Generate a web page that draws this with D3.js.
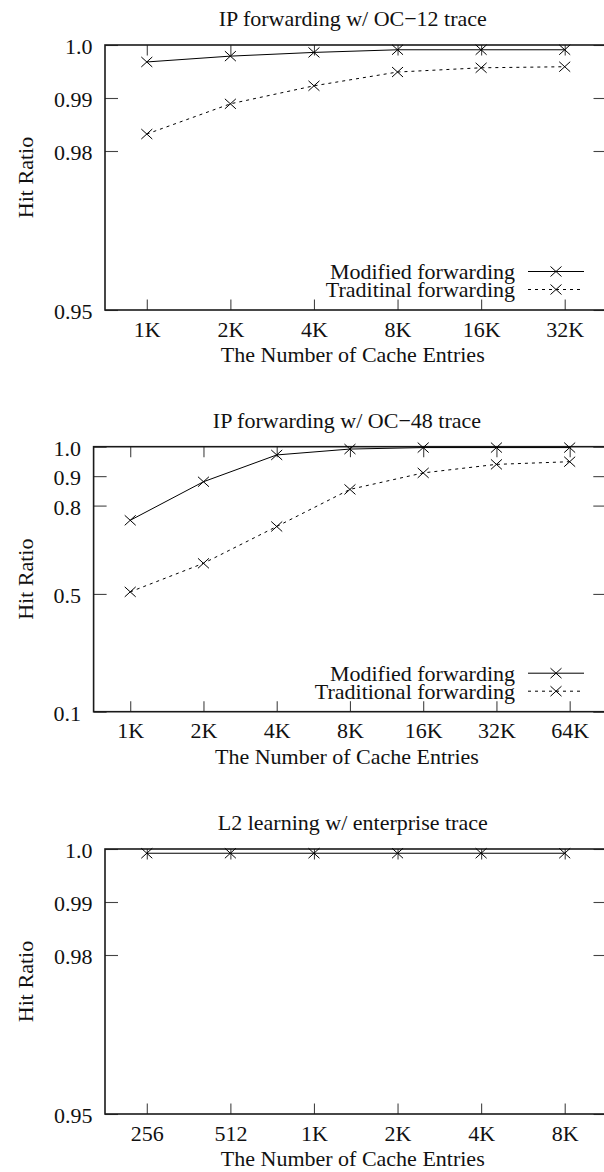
<!DOCTYPE html>
<html>
<head>
<meta charset="utf-8">
<script src="https://cdn.jsdelivr.net/npm/d3@7"></script>
<style>
    body { margin: 0; background: #fff; }
    svg text { font-family: 'Liberation Serif', 'Times New Roman', serif !important; font-size: 22px; fill: #111; }
</style>
</head>
<body>
<div id="vis"></div>
<script>
// OC-12 panel
const labels12 = ['1K', '2K', '4K', '8K', '16K', '32K'];
const modified12 = [0.9968, 0.9979, 0.9986, 0.9991, 0.9991, 0.9991];
const traditional12 = [0.9832, 0.9889, 0.9923, 0.9949, 0.9957, 0.9959];
const yTicks12 = [0.95, 0.98, 0.99, 1.0];

// OC-48 panel
const labels48 = ['1K', '2K', '4K', '8K', '16K', '32K', '64K'];
const modified48 = [0.750, 0.881, 0.972, 0.992, 0.997, 0.997, 0.997];
const traditional48 = [0.507, 0.604, 0.729, 0.855, 0.911, 0.940, 0.949];
const yTicks48 = [0.1, 0.5, 0.8, 0.9, 1.0];

// L2 learning panel
const labelsL2 = ['256', '512', '1K', '2K', '4K', '8K'];
const learningL2 = [0.9992, 0.9992, 0.9992, 0.9992, 0.9992, 0.9992];
const yTicksL2 = [0.95, 0.98, 0.99, 1.0];

const W = 604, H = 1172;
const plotH = 265;
const xTick = 10.5, yTick = 13;
const serif = "'Liberation Serif', 'Times New Roman', serif";

const svg = d3.select('#vis')
    .append('svg')
    .attr('width', W)
    .attr('height', H)
    .attr('font-family', serif);

const panels = [
    {
        title: 'IP forwarding w/ OC\u221212 trace', top: 45, left: 105, right: 606.5,
        labels: labels12, domain: [0.95, 1.0], yTicks: yTicks12,
        series: [
            { name: 'Modified forwarding', values: modified12, dash: null },
            { name: 'Traditinal forwarding', values: traditional12, dash: '3,4' }
        ],
        legend: true
    },
    {
        title: 'IP forwarding w/ OC\u221248 trace', top: 446.7, left: 93.6, right: 606.3,
        labels: labels48, domain: [0.1, 1.0], yTicks: yTicks48,
        series: [
            { name: 'Modified forwarding', values: modified48, dash: null },
            { name: 'Traditional forwarding', values: traditional48, dash: '3,4' }
        ],
        legend: true
    },
    {
        title: 'L2 learning w/ enterprise trace', top: 849, left: 105, right: 606.5,
        labels: labelsL2, domain: [0.95, 1.0], yTicks: yTicksL2,
        series: [
            { name: 'L2 learning', values: learningL2, dash: null }
        ],
        legend: false
    }
];

const cross = 'M-5.5,-5L5.5,5M-5.5,5L5.5,-5';

function fmt(v) {
    return v === 1 ? '1.0' : String(v);
}

function drawPanel(p) {
    const bottom = p.top + plotH;
    const g = svg.append('g');

    const xScale = d3.scalePoint()
        .domain(p.labels)
        .range([p.left, p.right])
        .padding(0.5);

    const yScale = d3.scaleLinear()
        .domain(p.domain)
        .range([bottom, p.top]);

    // bottom axis, ticks pointing inward
    const xb = g.append('g')
        .attr('transform', `translate(0,${bottom})`)
        .call(d3.axisBottom(xScale).tickSize(-xTick));
    xb.selectAll('text').attr('dy', null).attr('y', 26.5);

    // mirrored top ticks
    g.append('g')
        .attr('transform', `translate(0,${p.top})`)
        .call(d3.axisTop(xScale).tickSize(-xTick).tickFormat(''));

    // left axis
    const yl = g.append('g')
        .attr('transform', `translate(${p.left},0)`)
        .call(d3.axisLeft(yScale).tickValues(p.yTicks).tickSize(-yTick).tickFormat(fmt));
    yl.selectAll('text').attr('dy', null).attr('x', -12.5).attr('y', 8.5);

    // mirrored right ticks
    g.append('g')
        .attr('transform', `translate(${p.right},0)`)
        .call(d3.axisRight(yScale).tickValues(p.yTicks).tickSize(-yTick).tickFormat(''));

    g.selectAll('.domain').remove();
    g.selectAll('g').attr('font-family', serif).attr('font-size', 22);
    g.selectAll('.tick line').attr('stroke', '#444').attr('stroke-width', 1.1);
    g.selectAll('.tick text').attr('fill', '#111');

    // frame
    g.append('rect')
        .attr('x', p.left)
        .attr('y', p.top)
        .attr('width', p.right - p.left)
        .attr('height', plotH)
        .attr('fill', 'none')
        .attr('stroke', '#1a1a1a')
        .attr('stroke-width', 1.6);

    // titles
    g.append('text')
        .attr('x', (p.left + p.right) / 2 - 3)
        .attr('y', p.top - 19)
        .attr('text-anchor', 'middle')
        .text(p.title);

    g.append('text')
        .attr('x', (p.left + p.right) / 2 - 3)
        .attr('y', bottom + 52)
        .attr('text-anchor', 'middle')
        .text('The Number of Cache Entries');

    g.append('text')
        .attr('transform', `translate(25,${(p.top + bottom) / 2}) rotate(-90)`)
        .attr('text-anchor', 'middle')
        .attr('dominant-baseline', 'central')
        .text('Hit Ratio');

    const line = d3.line()
        .x((d, i) => xScale(p.labels[i]))
        .y(d => yScale(d));

    p.series.forEach(s => {
        g.append('path')
            .datum(s.values)
            .attr('d', line)
            .attr('fill', 'none')
            .attr('stroke', '#000')
            .attr('stroke-width', 1)
            .attr('stroke-dasharray', s.dash);

        g.selectAll(null)
            .data(s.values)
            .enter()
            .append('path')
            .attr('d', cross)
            .attr('transform', (d, i) => `translate(${xScale(p.labels[i])},${yScale(d)})`)
            .attr('fill', 'none')
            .attr('stroke', '#000')
            .attr('stroke-width', 1);
    });

    if (p.legend) {
        const rows = [bottom - 38.5, bottom - 20.5];
        p.series.forEach((s, i) => {
            const ly = rows[i];
            g.append('text')
                .attr('x', 515)
                .attr('y', ly + 7.5)
                .attr('text-anchor', 'end')
                .text(s.name);
            g.append('line')
                .attr('x1', 528)
                .attr('x2', 584)
                .attr('y1', ly)
                .attr('y2', ly)
                .attr('stroke', '#000')
                .attr('stroke-width', 1)
                .attr('stroke-dasharray', s.dash);
            g.append('path')
                .attr('d', cross)
                .attr('transform', `translate(556,${ly})`)
                .attr('fill', 'none')
                .attr('stroke', '#000');
        });
    }
}

panels.forEach(drawPanel);
</script>
</body>
</html>
